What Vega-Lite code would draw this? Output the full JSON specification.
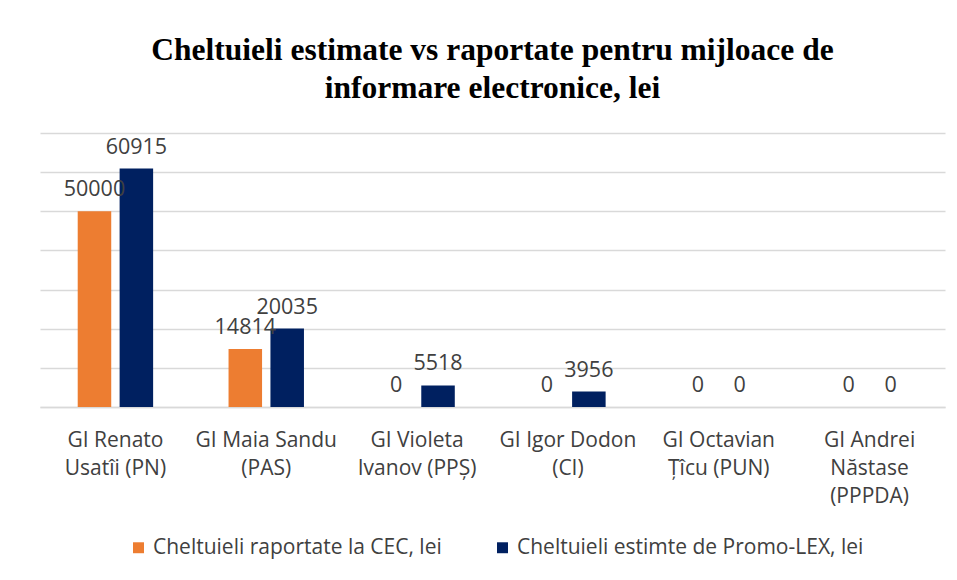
{
  "$schema": "https://vega.github.io/schema/vega-lite/v6.json",
  "width": 905,
  "height": 274,
  "autosize": {"type": "none"},
  "padding": {"left": 40, "top": 133, "right": 12, "bottom": 173},
  "background": "white",
  "title": {
    "text": ["Cheltuieli estimate vs raportate pentru mijloace de", "informare electronice, lei"],
    "font": "Liberation Serif",
    "fontSize": 31.5,
    "fontWeight": "bold",
    "color": "#000000",
    "anchor": "middle",
    "lineHeight": 38,
    "offset": 29
  },
  "data": {
    "values": [
      {"cand": "GI Renato|Usatîi (PN)", "serie": "Cheltuieli raportate la CEC, lei", "val": 50000},
      {"cand": "GI Renato|Usatîi (PN)", "serie": "Cheltuieli estimte de Promo-LEX, lei", "val": 60915},
      {"cand": "GI Maia Sandu|(PAS)", "serie": "Cheltuieli raportate la CEC, lei", "val": 14814},
      {"cand": "GI Maia Sandu|(PAS)", "serie": "Cheltuieli estimte de Promo-LEX, lei", "val": 20035},
      {"cand": "GI Violeta|Ivanov (PPȘ)", "serie": "Cheltuieli raportate la CEC, lei", "val": 0},
      {"cand": "GI Violeta|Ivanov (PPȘ)", "serie": "Cheltuieli estimte de Promo-LEX, lei", "val": 5518},
      {"cand": "GI Igor Dodon|(CI)", "serie": "Cheltuieli raportate la CEC, lei", "val": 0},
      {"cand": "GI Igor Dodon|(CI)", "serie": "Cheltuieli estimte de Promo-LEX, lei", "val": 3956},
      {"cand": "GI Octavian|Țîcu (PUN)", "serie": "Cheltuieli raportate la CEC, lei", "val": 0},
      {"cand": "GI Octavian|Țîcu (PUN)", "serie": "Cheltuieli estimte de Promo-LEX, lei", "val": 0},
      {"cand": "GI Andrei|Năstase|(PPPDA)", "serie": "Cheltuieli raportate la CEC, lei", "val": 0},
      {"cand": "GI Andrei|Năstase|(PPPDA)", "serie": "Cheltuieli estimte de Promo-LEX, lei", "val": 0}
    ]
  },
  "encoding": {
    "x": {
      "field": "cand",
      "type": "nominal",
      "sort": null,
      "title": null,
      "scale": {"paddingInner": 0.5, "paddingOuter": 0.25},
      "axis": {
        "labelAngle": 0,
        "labelExpr": "split(datum.label, '|')",
        "labelFont": "Open Sans",
        "labelFontSize": 21,
        "labelColor": "#404040",
        "labelLineHeight": 28,
        "labelPadding": 22,
        "labelBaseline": "top",
        "ticks": false,
        "domainColor": "#D9D9D9",
        "domainWidth": 1.5,
        "grid": false
      }
    },
    "xOffset": {
      "field": "serie",
      "type": "nominal",
      "sort": ["Cheltuieli raportate la CEC, lei", "Cheltuieli estimte de Promo-LEX, lei"],
      "scale": {"paddingInner": 0.2, "paddingOuter": 0}
    },
    "y": {
      "field": "val",
      "type": "quantitative",
      "title": null,
      "scale": {"domain": [0, 70000], "nice": false},
      "axis": {
        "labels": false,
        "ticks": false,
        "domain": false,
        "tickCount": 7,
        "gridColor": "#D9D9D9",
        "gridWidth": 1.5
      }
    }
  },
  "layer": [
    {
      "mark": {"type": "bar"},
      "encoding": {
        "color": {
          "field": "serie",
          "type": "nominal",
          "sort": ["Cheltuieli raportate la CEC, lei", "Cheltuieli estimte de Promo-LEX, lei"],
          "scale": {"range": ["#ED7D31", "#002060"]},
          "legend": {
            "title": null,
            "orient": "none",
            "legendX": 88,
            "legendY": 404,
            "direction": "horizontal",
            "symbolType": "square",
            "symbolSize": 120,
            "symbolStrokeWidth": 0,
            "labelFont": "Open Sans",
            "labelFontSize": 21,
            "labelColor": "#404040",
            "columnPadding": 50,
            "labelLimit": 400
          }
        }
      }
    },
    {
      "mark": {"type": "text", "baseline": "alphabetic", "dy": -15, "font": "Open Sans", "fontSize": 21.5, "color": "#404040"},
      "encoding": {
        "text": {"field": "val", "type": "quantitative", "format": "d"}
      }
    }
  ],
  "config": {
    "view": {"stroke": null}
  }
}
